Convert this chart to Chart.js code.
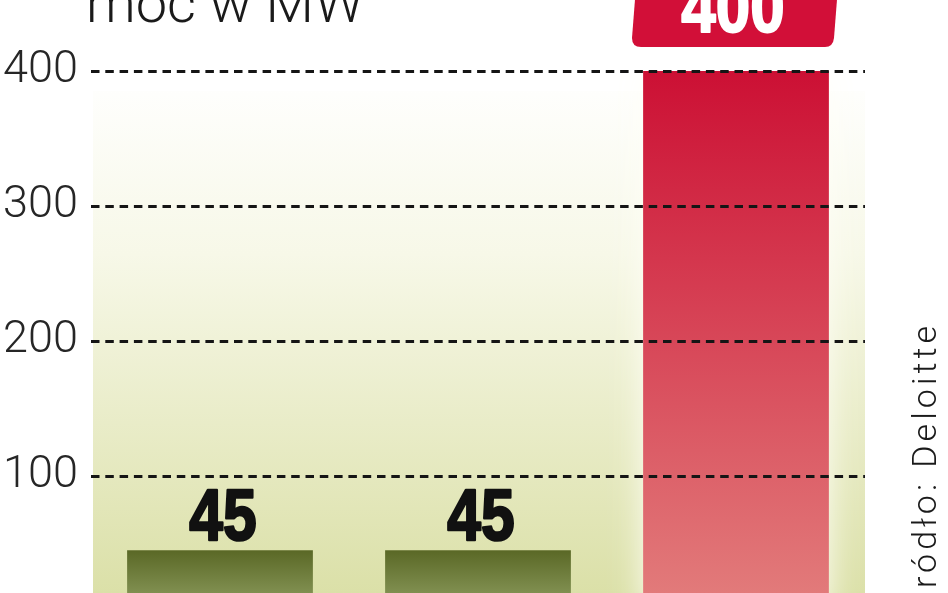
<!DOCTYPE html>
<html>
<head>
<meta charset="utf-8">
<script src="https://cdn.jsdelivr.net/npm/chart.js@4.4.1/dist/chart.umd.min.js"></script>
<style>
  html, body { margin: 0; padding: 0; background: #ffffff; overflow: hidden; }
  #c { display: block; }
</style>
</head>
<body>
<canvas id="c" width="948" height="640" style="width:948px;height:640px"></canvas>
<script>
// ---- data ----
const categories = ['A', 'B', 'C'];
const values = [45, 45, 400];
const yTicks = [100, 200, 300, 400];
const titleText = 'moc w MW';
const sourceText = 'Źródło: Deloitte';
const highlightIndex = 2;

// ---- styles ----
const OLIVE_TOP = '#5a6826', OLIVE_BOT = '#808f50';
const RED_TOP = '#cc1034', RED_BOT = '#e27a7a';
const BOX_RED = '#d20f38';

function barFill(ctx) {
  const chart = ctx.chart;
  const ca = chart.chartArea;
  if (!ca) return OLIVE_TOP;
  const yTop = chart.scales.y.getPixelForValue(values[ctx.dataIndex]);
  const g = chart.ctx.createLinearGradient(0, yTop, 0, 593);
  if (ctx.dataIndex === highlightIndex) {
    g.addColorStop(0, RED_TOP); g.addColorStop(1, RED_BOT);
  } else {
    g.addColorStop(0, OLIVE_TOP); g.addColorStop(1, OLIVE_BOT);
  }
  return g;
}

const bgPlugin = {
  id: 'bg',
  beforeDatasetsDraw(chart) {
    const { ctx, chartArea: ca } = chart;
    ctx.save();
    const g = ctx.createLinearGradient(0, ca.top, 0, 593);
    g.addColorStop(0, '#ffffff');
    g.addColorStop(0.35, '#f7f8e8');
    g.addColorStop(1, '#dbe0a8');
    ctx.fillStyle = g;
    ctx.fillRect(ca.left + 2, ca.top + 20, ca.right - ca.left - 2, ca.bottom - ca.top);
    // soft light glow behind the highlighted bar
    const bar = chart.getDatasetMeta(0).data[highlightIndex];
    if (bar) {
      ctx.beginPath();
      ctx.rect(ca.left + 2, ca.top, ca.right - ca.left - 2, ca.bottom - ca.top);
      ctx.clip();
      ctx.shadowColor = 'rgba(255,255,248,0.95)';
      ctx.shadowBlur = 30;
      ctx.fillStyle = '#fbfbf0';
      ctx.fillRect(bar.x - bar.width / 2, bar.y, bar.width, ca.bottom - bar.y);
    }
    ctx.restore();
  }
};

function drawNarrow(ctx, text, x, y, sx, lw) {
  ctx.save();
  ctx.translate(x, y);
  ctx.scale(sx, 1);
  ctx.lineWidth = lw;
  ctx.lineJoin = 'round';
  ctx.strokeText(text, 0, 0);
  ctx.fillText(text, 0, 0);
  ctx.restore();
}

const textPlugin = {
  id: 'texts',
  afterDraw(chart) {
    const { ctx } = chart;
    const meta = chart.getDatasetMeta(0);
    ctx.save();
    meta.data.forEach((bar, i) => {
      const v = String(values[i]);
      ctx.font = 'bold 72px "Liberation Sans", Arial, sans-serif';
      ctx.textAlign = 'center';
      ctx.textBaseline = 'alphabetic';
      if (i === highlightIndex) {
        const bot = bar.y - 24, top = bar.y - 110;
        const l = bar.x - 104, r = bar.x + 104, rad = 9;
        ctx.fillStyle = BOX_RED;
        ctx.beginPath();
        ctx.moveTo(l + 6, top);
        ctx.lineTo(r, top);
        ctx.lineTo(r - 6, bot - rad);
        ctx.quadraticCurveTo(r - 7, bot, r - 6 - rad, bot);
        ctx.lineTo(l + rad, bot);
        ctx.quadraticCurveTo(l, bot, l, bot - rad);
        ctx.closePath();
        ctx.fill();
        ctx.fillStyle = '#ffffff';
        ctx.strokeStyle = '#ffffff';
        drawNarrow(ctx, v, bar.x - 3, bar.y - 39, 0.86, 2);
      } else {
        ctx.fillStyle = '#111111';
        ctx.strokeStyle = '#111111';
        drawNarrow(ctx, v, bar.x + 3, bar.y - 10, 0.84, 2.5);
      }
    });
    // title
    ctx.fillStyle = '#1a1a1a';
    ctx.textAlign = 'left';
    ctx.font = '300 56px Roboto, "Noto Sans", sans-serif';
    ctx.fillText(titleText, 86, 22);
    // source, rotated
    ctx.save();
    ctx.translate(936, 322);
    ctx.rotate(-Math.PI / 2);
    ctx.font = '300 34px Roboto, "Noto Sans", sans-serif';
    ctx.letterSpacing = '4px';
    ctx.textAlign = 'right';
    ctx.fillStyle = '#1a1a1a';
    ctx.fillText(sourceText, 0, 0);
    ctx.restore();
    ctx.restore();
  }
};

new Chart(document.getElementById('c'), {
  type: 'bar',
  data: {
    labels: categories,
    datasets: [{
      data: values,
      backgroundColor: barFill,
      borderWidth: 0,
      barPercentage: 0.72,
      categoryPercentage: 1.0
    }]
  },
  options: {
    responsive: false,
    maintainAspectRatio: false,
    animation: false,
    devicePixelRatio: 1,
    layout: { padding: { top: 71, right: 83, bottom: 29, left: 0 } },
    plugins: { legend: { display: false }, tooltip: { enabled: false }, title: { display: false } },
    scales: {
      x: { display: false },
      y: {
        min: 0, max: 400,
        afterFit(scale) { scale.width = 91; scale.paddingTop = 0; scale.paddingBottom = 0; },
        afterBuildTicks(scale) { scale.ticks = yTicks.map(v => ({ value: v })); },
        border: { display: false, dash: [8.5, 5.8] },
        grid: {
          z: 1,
          color: '#151515',
          lineWidth: 2.9,
          drawTicks: false
        },
        ticks: {
          padding: 13,
          color: '#262626',
          font: { family: 'Roboto, "Noto Sans", sans-serif', size: 45, weight: 300 }
        }
      }
    }
  },
  plugins: [bgPlugin, textPlugin]
});
</script>
</body>
</html>
